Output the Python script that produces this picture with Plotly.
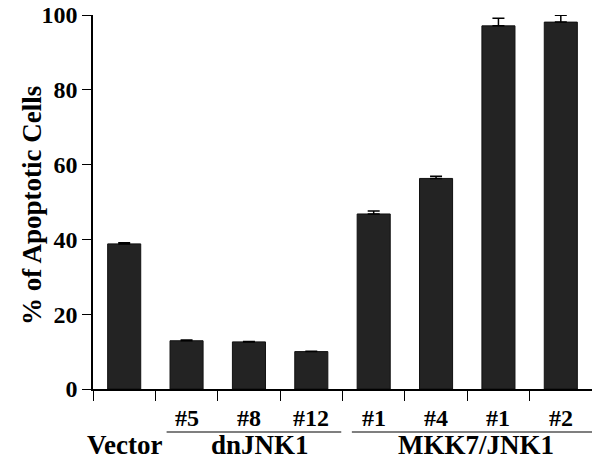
import plotly.graph_objects as go

categories = ["Vector", "#5", "#8", "#12", "#1", "#4", "#1", "#2"]
values = [38.8, 12.9, 12.6, 10.0, 46.8, 56.3, 97.1, 98.1]
errors = [0.3, 0.2, 0.1, 0.1, 0.8, 0.6, 2.0, 1.8]
groups = [("dnJNK1", 1, 3), ("MKK7/JNK1", 4, 7)]
yticks = [0, 20, 40, 60, 80, 100]

FONT = '"Liberation Serif", "Times New Roman", Times, serif'
x = list(range(len(categories)))

fig = go.Figure()
fig.add_trace(go.Bar(
    x=x, y=values, width=0.53,
    marker=dict(color="#232323", line=dict(color="#111111", width=1)),
    error_y=dict(type="data", symmetric=False, array=errors,
                 arrayminus=[0] * len(errors), color="black",
                 thickness=1.5, width=6),
))

W, H = 592, 465
L, R, T, B = 93, 0, 15, 76
plot_h = H - T - B

def py(pix):
    return (H - B - pix) / plot_h

def bold(t):
    return "<b>" + t + "</b>"

annotations = []
for i, c in enumerate(categories):
    if i == 0:
        continue
    annotations.append(dict(x=i, y=py(418), xref="x", yref="paper", text=bold(c),
                            showarrow=False, xanchor="center", yanchor="middle",
                            font=dict(family=FONT, size=24, color="black")))
annotations.append(dict(x=0, y=py(445), xref="x", yref="paper", text=bold(categories[0]),
                        showarrow=False, xanchor="center", yanchor="middle",
                        font=dict(family=FONT, size=27, color="black")))
shapes = []
for name, a, b in groups:
    x0 = a - 0.32 if a == 1 else a - 0.35
    x1 = b + 0.48 if b == 3 else b + 0.5
    shapes.append(dict(type="line", xref="x", yref="paper", x0=x0, x1=x1,
                       y0=py(432), y1=py(432), line=dict(color="black", width=1.2)))
    annotations.append(dict(x=(a + b) / 2 + (0.18 if b == 3 else 0.14), y=py(445),
                            xref="x", yref="paper", text=bold(name), showarrow=False,
                            xanchor="center", yanchor="middle",
                            font=dict(family=FONT, size=27, color="black")))
annotations.append(dict(x=(32 - L) / (W - L - R), y=py(206), xref="paper", yref="paper",
                        text=bold("% of Apoptotic Cells"), textangle=-90, showarrow=False,
                        xanchor="center", yanchor="middle",
                        font=dict(family=FONT, size=27, color="black")))

fig.update_layout(
    width=W, height=H, margin=dict(l=L, r=R, t=T, b=B, pad=0),
    paper_bgcolor="white", plot_bgcolor="white", showlegend=False,
    annotations=annotations, shapes=shapes,
    xaxis=dict(range=[-0.5, 7.5], tickmode="array",
               tickvals=[i - 0.5 for i in range(len(categories) + 1)],
               showticklabels=False, ticks="outside", ticklen=10, tickwidth=1.2,
               tickcolor="black", showline=True, linecolor="black", linewidth=1.5,
               showgrid=False, zeroline=False),
    yaxis=dict(range=[0, 100], tickmode="array", tickvals=yticks,
               ticktext=[bold(str(v)) for v in yticks],
               ticks="outside", ticklen=9, tickwidth=1.2, tickcolor="black",
               showline=True, linecolor="black", linewidth=1.5,
               showgrid=False, zeroline=False,
               tickfont=dict(family=FONT, size=24, color="black")),
)

fig.write_html("out.html", config={"displayModeBar": False},
               post_script="document.body.style.margin='0';document.body.style.overflow='hidden';")
